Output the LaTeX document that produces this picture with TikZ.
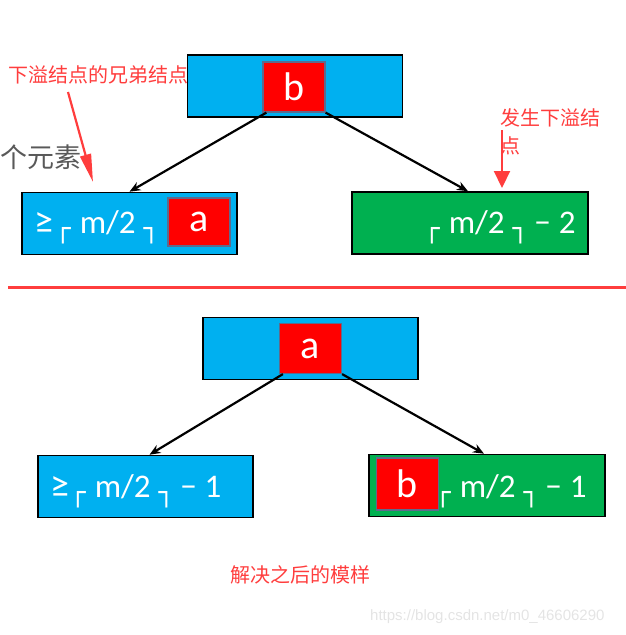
\documentclass[tikz,border=0pt]{standalone}
\usepackage{fontspec}
\usepackage{xcolor}
\usepackage{tikz}
\usetikzlibrary{arrows.meta,positioning,calc}
\newfontfamily\boxfont{Carlito}
\newfontfamily\cjkfont{Noto Sans CJK SC}
\newfontfamily\barfont{DejaVu Sans}
\newfontfamily\urlfont{Liberation Sans}
\definecolor{boxblue}{HTML}{00B0F0}
\definecolor{boxgreen}{HTML}{00B050}
\definecolor{cellred}{HTML}{FF0000}
\definecolor{celledge}{HTML}{5E6A8C}
\definecolor{notered}{HTML}{FF3D3D}
\definecolor{fadegray}{HTML}{595959}
\definecolor{markgray}{HTML}{E4E4E4}
\newcommand{\lc}{\raisebox{-4pt}{\barfont\fontsize{26}{26}\selectfont ┌}}
\newcommand{\rc}{\raisebox{-4pt}{\barfont\fontsize{26}{26}\selectfont ┐}}
\newcommand{\halfm}{\lc\hspace{9pt}m/2\hspace{8pt}\rc}
\tikzset{
  blkblue/.style={rectangle, draw=black, line width=1.6pt, fill=boxblue, minimum width=215pt, minimum height=62pt, inner sep=0pt},
  blkgreen/.style={blkblue, fill=boxgreen, minimum width=236pt},
  keycell/.style={rectangle, draw=celledge, line width=1.2pt, fill=cellred, minimum width=62pt, minimum height=50pt, inner sep=0pt, text=white, font=\boxfont\fontsize{40}{40}\selectfont},
  blktext/.style={anchor=base west, inner sep=0pt, text=white, font=\boxfont\fontsize{33}{33}\selectfont},
  notetext/.style={anchor=west, inner sep=0pt, text=notered, align=left, font=\cjkfont\fontsize{20}{28}\selectfont},
  treearrow/.style={-{Stealth[length=11pt,width=9pt]}, line width=2.2pt},
  notearrow/.style={-{Triangle[length=28pt,width=11pt]}, line width=2.2pt, draw=notered, fill=notered}
}
\begin{document}
\begin{tikzpicture}[x=1pt,y=-1pt]
\useasboundingbox (0,0) rectangle (626,635);
% before: underflow at the right child
\node[blkblue] (topnode) at (295,86) {};
\node[keycell] (topkey) at (294,87) {b};
\node[blkblue] (leftkid) at (129.5,223.5) {};
\node[keycell, minimum height=48pt] (leftkey) at (199,222) {a};
\node[blkgreen] (rightkid) at (470,223) {};
\node[blktext] (leftlbl) at (34,233) {{\fontsize{38}{38}\selectfont ≥}\hspace{2pt}\halfm};
\node[blktext] (rightlbl) at (424,233) {\halfm\hspace{6pt}−\hspace{8pt}2};
\draw[treearrow] ($(topkey.south west)+(4,0)$) -- (leftkid.north);
\draw[treearrow] (topkey.south east) -- ($(rightkid.north)+(-2,0)$);
% notes
\node[anchor=west, inner sep=0pt, text=fadegray, font=\cjkfont\fontsize{27}{27}\selectfont] (cutoff) at (0,157) {个元素};
\node[notetext] (sibnote) at (8,75) {下溢结点的兄弟结点};
\node[notetext, anchor=north west] (flownote) at (500,108) {发生下溢结\\点};
\coordinate (sibtail) at (68,92);
\coordinate (sibtip) at (93,182);
\coordinate (flowtail) at (502,130);
\coordinate (flowtip) at (502,188);
\draw[notearrow] (sibtail) -- (sibtip);
\draw[notearrow, -{Triangle[length=17pt,width=16pt]}] (flowtail) -- (flowtip);
% divider
\coordinate (cutl) at (8,287);
\coordinate (cutr) at (626,287);
\draw[notered, line width=3pt] (cutl) -- (cutr);
% after: borrowed through the parent
\node[blkblue] (newtop) at (310.5,348.5) {};
\node[keycell] (newtopkey) at (310.5,348.5) {a};
\node[blkblue] (newleft) at (145.5,486.5) {};
\node[blkgreen] (newright) at (487,485.5) {};
\node[keycell, minimum height=52pt] (newrightkey) at (407.5,484) {b};
\node[blktext] (newleftlbl) at (50,497) {{\fontsize{38}{38}\selectfont ≥}\hspace{1pt}\halfm\hspace{6pt}−\hspace{8pt}1};
\node[blktext] (newrightlbl) at (435,497) {\halfm\hspace{6pt}−\hspace{8pt}1};
\draw[treearrow] ($(newtopkey.south west)+(4,0)$) -- ($(newleft.north)+(4,0)$);
\draw[treearrow] (newtopkey.south east) -- ($(newright.north)+(-3,0)$);
\node[notetext] (donenote) at (230,575) {解决之后的模样};
\node[anchor=west, inner sep=0pt, text=markgray, font=\urlfont\fontsize{15}{15}\selectfont] (srcmark) at (370,617) {https://blog.csdn.net/m0\_46606290};
\end{tikzpicture}
\end{document}
